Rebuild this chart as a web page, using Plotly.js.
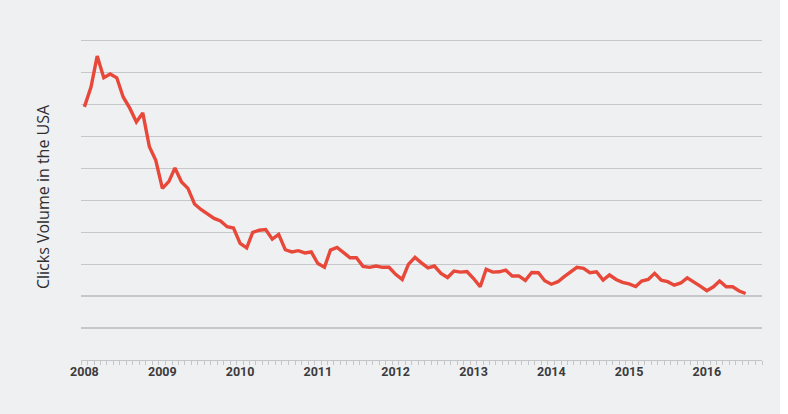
<!DOCTYPE html>
<html>
<head>
<meta charset="utf-8">
<script src="https://cdn.plot.ly/plotly-3.0.1.min.js"></script>
<style>
  html, body { margin: 0; padding: 0; background: #ffffff; }
  #chart { width: 780px; height: 414px; }
</style>
</head>
<body>
<div id="chart"></div>
<script>
// Monthly click volume (arbitrary units, gridline = 1 unit), Jan 2008 – Jul 2016
const startYear = 2008;
const clicks = [
  7.92, 8.54, 9.51, 8.83, 8.95, 8.83, 8.23, 7.88, 7.45, 7.73, 6.67, 6.25,
  5.37, 5.59, 6.01, 5.57, 5.37, 4.88, 4.71, 4.58, 4.43, 4.35, 4.17, 4.13,
  3.65, 3.51, 3.99, 4.06, 4.08, 3.78, 3.93, 3.45, 3.38, 3.42, 3.35, 3.38,
  3.02, 2.90, 3.44, 3.52, 3.35, 3.20, 3.20, 2.93, 2.90, 2.94, 2.90, 2.90,
  2.68, 2.52, 2.99, 3.21, 3.04, 2.88, 2.94, 2.71, 2.58, 2.78, 2.75, 2.77,
  2.55, 2.29, 2.84, 2.75, 2.76, 2.81, 2.63, 2.63, 2.49, 2.74, 2.73, 2.48,
  2.37, 2.45, 2.60, 2.74, 2.90, 2.87, 2.73, 2.76, 2.50, 2.66, 2.52, 2.43,
  2.38, 2.30, 2.47, 2.52, 2.71, 2.50, 2.45, 2.34, 2.41, 2.57, 2.45, 2.31,
  2.17, 2.29, 2.47, 2.29, 2.29, 2.16, 2.08
];
const yearTicks = ['2008','2009','2010','2011','2012','2013','2014','2015','2016'];

const months = clicks.map((_, i) => {
  const y = startYear + Math.floor(i / 12);
  const m = (i % 12) + 1;
  return y + '-' + String(m).padStart(2, '0') + '-01';
});

const trace = {
  x: months,
  y: clicks,
  type: 'scatter',
  mode: 'lines',
  line: { color: '#e8483a', width: 3.4 },
  hoverinfo: 'skip'
};

const layout = {
  width: 780,
  height: 414,
  paper_bgcolor: '#eff0f2',
  plot_bgcolor: '#eff0f2',
  margin: { l: 81, r: 18, t: 34, b: 54 },
  showlegend: false,
  xaxis: {
    type: 'date',
    range: ['2007-12-16', '2016-09-16'],
    tickvals: yearTicks.map(y => y + '-01-01'),
    ticktext: yearTicks,
    ticks: '',
    showgrid: false,
    zeroline: false,
    showline: true,
    linecolor: '#c4c5c8',
    linewidth: 1,
    tickfont: { family: 'Roboto, "Open Sans", sans-serif', size: 12.5, color: '#3b3b3d', weight: 'bold' },
    minor: {
      dtick: 'M1',
      tick0: '2007-12-16',
      ticks: 'outside',
      ticklen: 4,
      tickwidth: 1,
      tickcolor: '#c4c5c8',
      showgrid: false
    },
    fixedrange: true
  },
  yaxis: {
    range: [0, 10.2],
    dtick: 1,
    tick0: 0,
    showticklabels: false,
    ticks: '',
    showgrid: true,
    gridcolor: '#c6c7ca',
    gridwidth: 1.2,
    zeroline: false,
    showline: false,
    title: {
      text: 'Clicks Volume in the USA',
      font: { family: '"Open Sans", "Noto Sans", sans-serif', size: 16, color: '#2e2e30', weight: 500 },
      standoff: 26
    },
    fixedrange: true
  }
};

Plotly.newPlot('chart', [trace], layout, { displayModeBar: false, staticPlot: true });
</script>
</body>
</html>
